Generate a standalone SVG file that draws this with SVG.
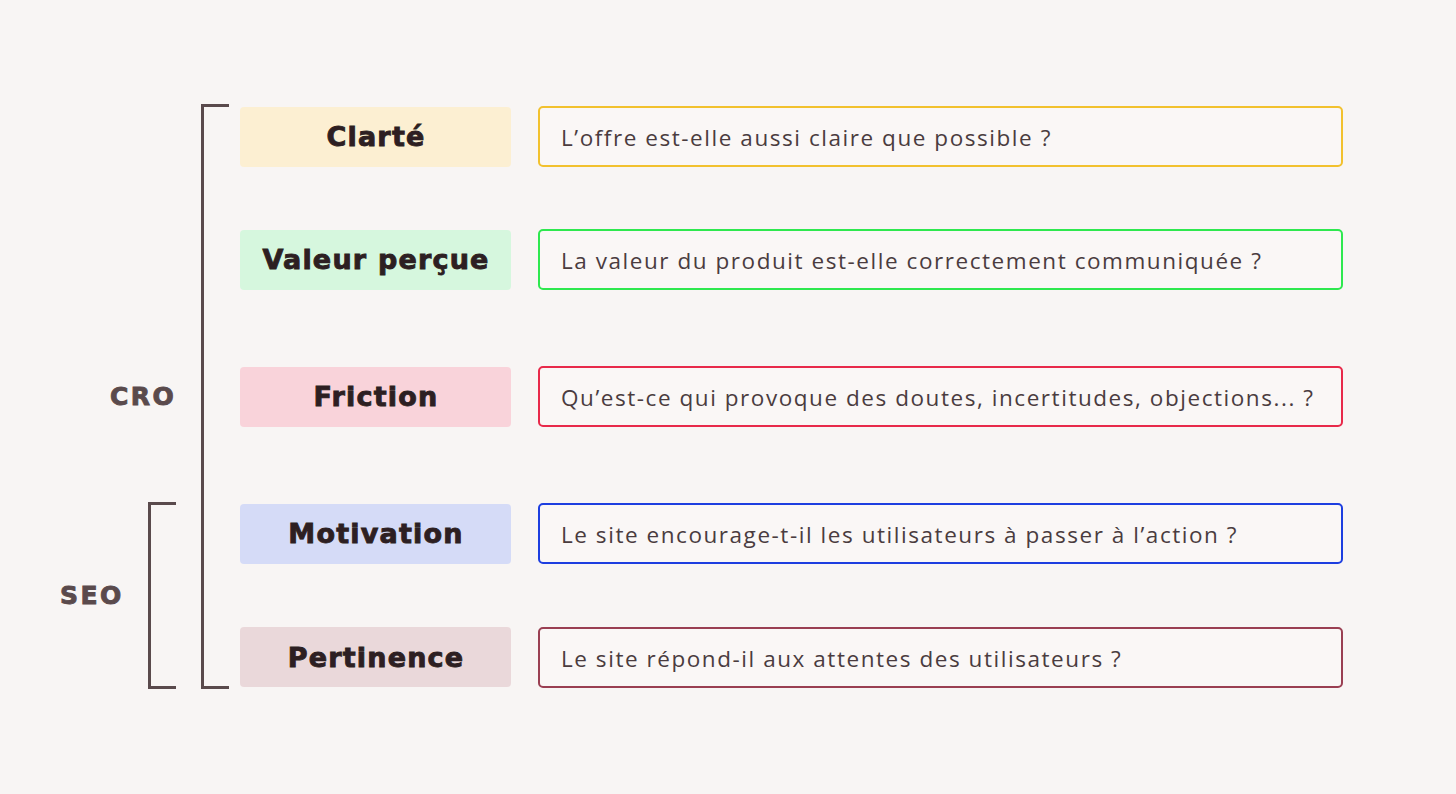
<svg xmlns="http://www.w3.org/2000/svg" width="1456" height="794" viewBox="0 0 1456 794">
<style>
.lbl{font-family:"DejaVu Sans",sans-serif;font-weight:bold;font-size:27px;fill:#2d1f22;stroke:#2d1f22;stroke-width:0.9;text-anchor:middle;letter-spacing:1.2px}
.grp{font-family:"DejaVu Sans",sans-serif;font-weight:bold;font-size:25px;fill:#5a4a4c;stroke:#5a4a4c;stroke-width:0.9;letter-spacing:2.5px}
.q{font-family:"Open Sans","Noto Sans",sans-serif;font-size:22.5px;fill:#4a3c3f;letter-spacing:1.55px}
.br{fill:none;stroke:#5a4a4c;stroke-width:3}
.box{stroke:none}
.qb{fill:#faf7f6;stroke-width:2}
</style>
<rect width="1456" height="794" fill="#f8f5f4"/>
<g id="connectors">
<path class="br" d="M229,105.5 H202.5 V687.5 H229"/>
<path class="br" d="M176,503.5 H149.5 V687.5 H176"/>
</g>
<g id="cro"><text class="grp" x="110" y="405">CRO</text></g>
<g id="seo"><text class="grp" x="60" y="604">SEO</text></g>
<g id="clarte">
<rect class="box" x="240" y="107" width="271" height="60" rx="4" fill="#fcefd2"/>
<text class="lbl" x="376" y="146">Clarté</text>
<rect class="qb" x="539" y="107" width="803" height="59" rx="4" stroke="#f2c12e"/>
<text class="q" x="561" y="146">L’offre est-elle aussi claire que possible ?</text>
</g>
<g id="valeur">
<rect class="box" x="240" y="230" width="271" height="60" rx="4" fill="#d6f7de"/>
<text class="lbl" x="376" y="269">Valeur perçue</text>
<rect class="qb" x="539" y="230" width="803" height="59" rx="4" stroke="#2ee84f"/>
<text class="q" x="561" y="269">La valeur du produit est-elle correctement communiquée ?</text>
</g>
<g id="friction">
<rect class="box" x="240" y="367" width="271" height="60" rx="4" fill="#f9d3da"/>
<text class="lbl" x="376" y="406">Friction</text>
<rect class="qb" x="539" y="367" width="803" height="59" rx="4" stroke="#e8294a"/>
<text class="q" x="561" y="406">Qu’est-ce qui provoque des doutes, incertitudes, objections... ?</text>
</g>
<g id="motivation">
<rect class="box" x="240" y="504" width="271" height="60" rx="4" fill="#d5dbf7"/>
<text class="lbl" x="376" y="543">Motivation</text>
<rect class="qb" x="539" y="504" width="803" height="59" rx="4" stroke="#1d3ee0"/>
<text class="q" x="561" y="543">Le site encourage-t-il les utilisateurs à passer à l’action ?</text>
</g>
<g id="pertinence">
<rect class="box" x="240" y="627" width="271" height="60" rx="4" fill="#ead8da"/>
<text class="lbl" x="376" y="667">Pertinence</text>
<rect class="qb" x="539" y="628" width="803" height="59" rx="4" stroke="#9a3f52"/>
<text class="q" x="561" y="667">Le site répond-il aux attentes des utilisateurs ?</text>
</g>
</svg>
